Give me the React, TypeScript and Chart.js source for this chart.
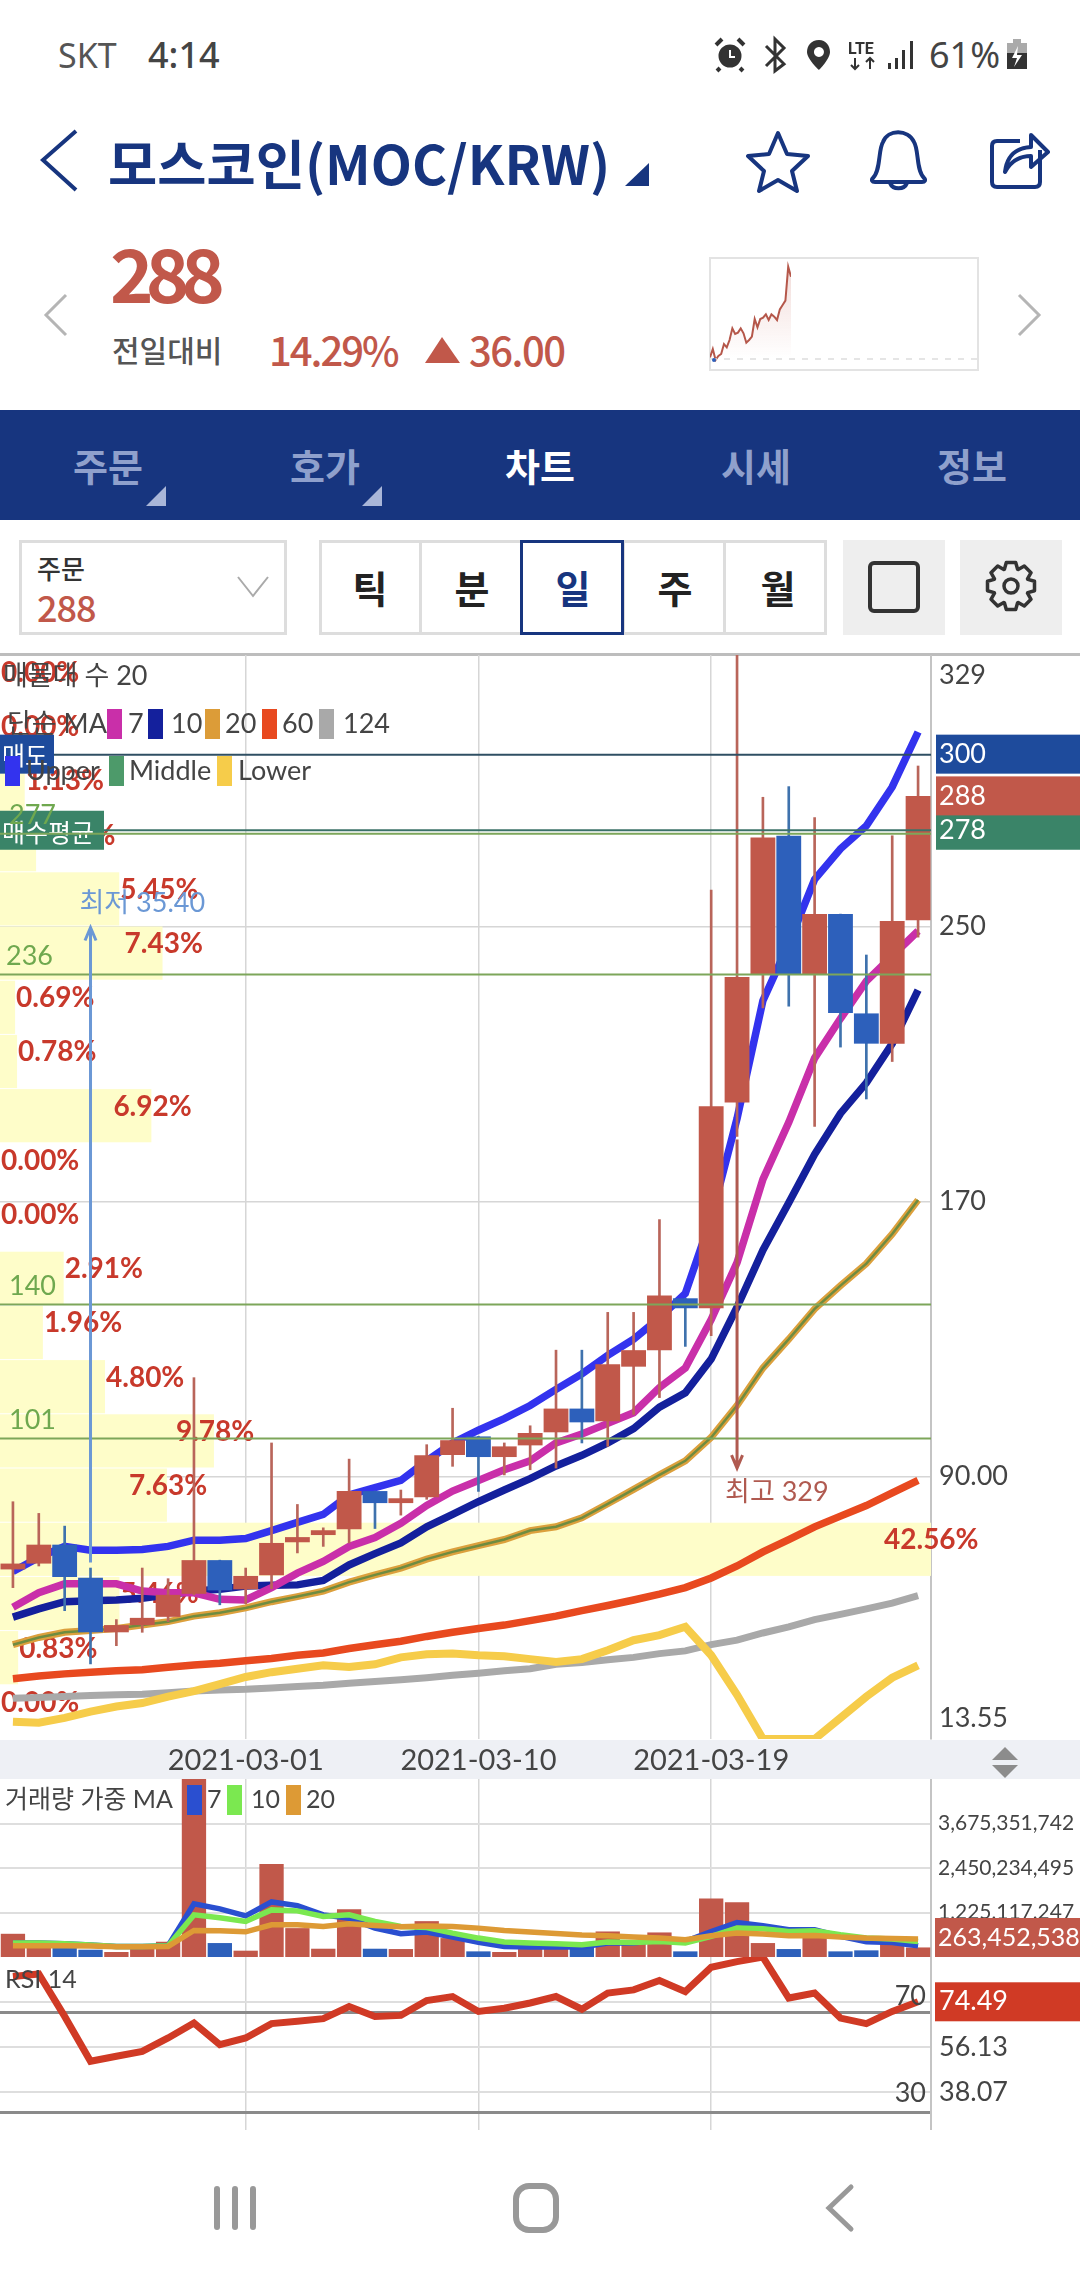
import React, { useEffect, useRef } from "react";
import { Chart, registerables } from "chart.js";

Chart.register(...registerables);

const FONT = 'Lato, "Noto Sans CJK KR", sans-serif';
const KR = '"Noto Sans CJK KR", sans-serif';
Chart.defaults.font.family = FONT;

const dates = [
  "2021-02-20","2021-02-21","2021-02-22","2021-02-23","2021-02-24","2021-02-25","2021-02-26","2021-02-27","2021-02-28",
  "2021-03-01","2021-03-02","2021-03-03","2021-03-04","2021-03-05","2021-03-06","2021-03-07","2021-03-08","2021-03-09",
  "2021-03-10","2021-03-11","2021-03-12","2021-03-13","2021-03-14","2021-03-15","2021-03-16","2021-03-17","2021-03-18",
  "2021-03-19","2021-03-20","2021-03-21","2021-03-22","2021-03-23","2021-03-24","2021-03-25","2021-03-26","2021-03-27",
];
const majorDates = ["2021-03-01", "2021-03-10", "2021-03-19"];

const opens = [62.9,64.6,70.1,60.5,44.6,46.7,49.1,55.8,65.6,57.1,61.2,70.8,72.9,74.6,85.7,82.2,83.9,96.2,101.6,95.6,99.0,102.8,109.7,106.0,121.9,126.7,141.8,138.9,198.8,235.9,276.4,235.9,253.6,224.7,215.9,251.8];
const closes = [64.6,70.1,60.7,44.6,46.7,48.8,55.5,65.6,56.8,61.0,70.6,72.3,74.3,85.7,82.2,83.6,96.1,100.5,95.6,98.7,102.6,109.7,105.7,122.6,126.7,142.6,138.9,197.7,235.3,275.9,235.9,253.6,224.8,215.9,251.6,288];
const highs = [82.6,79.2,75.5,63.3,48.3,63.3,60.2,118.7,65.6,63.3,99.7,81.8,75.0,95.0,85.7,86.0,99.2,109.8,101.6,99.7,104.7,126.7,126.7,137.7,137.7,164.7,141.8,260.6,329,287.6,290.7,281.7,253.6,241.7,276.4,296.7];
const lows = [57.6,63.9,50.9,35.4,40.7,44.6,47.7,55.5,52.6,52.9,57.3,67.7,69.6,70.6,74.8,78.7,83.3,92.9,85.6,90.4,91.9,92.4,99.7,98.7,108.0,112.9,127.8,130.9,188.9,226.3,226.8,191.8,214.9,199.8,210.7,246.9];

const bbUpper = [62.3,66.4,69.6,68.5,68.5,68.7,69.6,71.4,71.4,71.9,74.2,76.6,78.9,84.6,86.7,88.8,94.5,99.7,103.4,106.8,110.6,115.3,119.8,125.2,129.9,136.1,143.2,165.1,194.1,228.4,245,263.7,272.6,279.3,290.6,306.6];
const bbLower = [18.6,18.3,19.7,21.5,23.0,24.0,25.9,27.5,29.5,31.6,33.0,34.0,35.0,34.5,35.3,37.3,38.2,38.4,37.9,37.6,36.8,36.0,36.8,39.4,42.3,43.8,46.2,37.9,26.4,13.55,13.55,13.55,19.7,25.9,31.4,35.0];
const ma7 = [51.9,56.1,58.7,58.7,58.7,56.6,56.1,56.1,54.2,54.0,57.6,61.8,65.2,69.6,72.2,76.3,81.5,85.7,88.8,91.9,94.5,99.7,102.3,105.4,108.5,115.8,121.5,135.6,152.2,176.4,193.0,211.7,223.2,234.1,241.4,248.7];
const ma10 = [49.0,51.4,53.5,53.8,54.0,54.5,55.5,56.6,57.1,58.1,58.3,58.4,59.7,64.2,67.5,70.6,75.3,78.9,82.6,86.0,89.3,93.0,96.1,99.7,103.9,110.1,114.3,124.1,139.2,155.8,169.6,183.7,195.6,204.5,215.9,231.5];
const ma20 = [41.0,43.1,44.6,45.1,45.7,46.7,47.7,49.3,50.3,51.7,53.5,55.0,56.6,59.2,61.3,63.3,65.9,68.0,69.8,71.6,74.2,75.3,77.9,82.0,86.2,90.4,94.5,101.3,110.6,121.5,129.9,138.7,145.5,151.9,160.5,170.4];
const ma60 = [31.1,31.9,32.5,33.0,33.4,33.7,34.4,35.1,35.6,36.3,37.0,37.9,38.6,39.9,41.0,42.0,43.4,44.6,45.7,46.7,48.0,49.3,50.9,52.4,54.0,55.7,57.6,60.4,63.9,68.0,71.6,75.3,78.4,81.5,85.2,88.8];
const ma124 = [25.4,25.6,25.9,26.2,26.4,26.6,27.0,27.5,27.8,28.0,28.4,28.8,29.2,29.8,30.3,30.8,31.4,32.1,32.7,33.4,34.0,35.3,35.8,36.6,37.3,38.4,39.2,41.0,42.3,44.4,46.2,48.3,49.8,51.4,53.1,55.3];

const priceMin = 13.55;
const priceMax = 329;
const priceTicks = [329, 300, 288, 278, 250, 170, 90, 13.55];
const priceTickLabels = ["329", "300", "288", "278", "250", "170", "90.00", "13.55"];
const priceGridTicks = [250, 170, 90];
const supportLevels = [277, 236, 140, 101];
const supportLabels = ["277", "236", "140", "101"];
const askPrice = 300;
const lastPrice = 288;
const avgBuyPrice = 278;

const profilePercents = [0,0,1.13,1.65,5.45,7.43,0.69,0.78,6.92,0,0,2.91,1.96,4.80,9.78,7.63,42.56,5.46,0.83,0];

const volumeMillions = [639,274,247,201,137,247,420,5200,384,174,2558,795,228,1315,228,219,987,521,155,137,219,274,274,703,384,676,155,1608,1507,384,219,703,155,183,384,263];
const volMa7 = [384,384,365,329,292,292,311,1462,1325,1133,1516,1416,1160,1069,795,639,685,548,402,292,274,274,274,384,384,475,429,703,950,859,749,749,566,420,402,311];
const volMa10 = [384,384,365,329,292,292,311,1160,1078,977,1297,1270,1114,1160,977,840,813,658,521,411,384,365,338,411,402,429,384,566,795,776,703,722,612,521,493,429];
const volMa20 = [311,311,311,301,283,283,292,731,722,694,886,886,840,914,868,831,850,840,795,731,685,649,603,585,548,521,475,585,658,630,585,594,548,521,512,493];
const volTicks = [1225.117247, 2450.234495, 3675.351742];
const volTickLabels = ["1,225,117,247", "2,450,234,495", "3,675,351,742"];
const volMax = 4900.469;
const volLastLabel = "263,452,538";

const rsiValues = [84.7,85.7,68.6,50.5,52.5,54.5,59.9,65.9,57.2,59.9,65.7,66.6,67.7,72.6,68.6,69.0,75.0,76.6,70.6,71.9,74.0,76.6,71.5,78.0,79.3,83.1,78.6,88.4,90.7,92.5,76.0,78.0,67.9,65.7,70.6,74.49];
const rsiTicks = [74.49, 70, 56.13, 38.07, 30];
const rsiMin = 22.77;
const rsiMax = 92.56;

const sparkValues = [38,63,30,42,48,78,68,90,125,108,112,125,110,82,90,100,153,128,153,157,167,150,167,160,150,182,195,208,310,280];

const RED = "#c1584a";
const BLUE = "#2d60bb";
const TAG_BLUE = "#1e4b9c";
const TAG_GREEN = "#3a8468";
const PCT_RED = "#c8392b";
const TXT = "#444444";
const GRID = "#d6d6d6";
const NAVY = "#17357f";

function txt(ctx: any, s: string, x: number, y: number, color: string, font: string, align: any = "left") {
  ctx.save();
  ctx.font = font;
  ctx.fillStyle = color;
  ctx.textAlign = align;
  ctx.textBaseline = "middle";
  ctx.fillText(s, x, y);
  ctx.restore();
}
function rect(ctx: any, x: number, y: number, w: number, h: number, color: string) {
  ctx.fillStyle = color;
  ctx.fillRect(x, y, w, h);
}
function hline(ctx: any, y: number, x0: number, x1: number, color: string, w = 2) {
  ctx.save();
  ctx.strokeStyle = color;
  ctx.lineWidth = w;
  ctx.beginPath();
  ctx.moveTo(x0, y);
  ctx.lineTo(x1, y);
  ctx.stroke();
  ctx.restore();
}
function arrow(ctx: any, x: number, y0: number, y1: number, color: string) {
  const d = y1 > y0 ? 1 : -1;
  ctx.save();
  ctx.strokeStyle = color;
  ctx.lineWidth = 3;
  ctx.beginPath();
  ctx.moveTo(x, y0);
  ctx.lineTo(x, y1);
  ctx.moveTo(x - 5.5, y1 - d * 13);
  ctx.lineTo(x, y1);
  ctx.lineTo(x + 5.5, y1 - d * 13);
  ctx.stroke();
  ctx.restore();
}

const mainOverlay = {
  id: "mainOverlay",
  beforeDatasetsDraw(chart: any) {
    const { ctx, scales } = chart;
    const y = scales.y;
    const p = scales.profile;
    const step = (priceMax - priceMin) / profilePercents.length;
    const f = `700 28px ${FONT}`;
    profilePercents.forEach((pct, i) => {
      const top = y.getPixelForValue(priceMax - step * i);
      const bot = y.getPixelForValue(priceMax - step * (i + 1));
      const r = p.getPixelForValue(pct);
      if (pct > 0) rect(ctx, 0, top + 0.5, r, bot - top - 1, "#fefdc9");
    });
    profilePercents.forEach((pct, i) => {
      const top = y.getPixelForValue(priceMax - step * i);
      const r = p.getPixelForValue(pct);
      const x = pct >= 6 ? r - 38 - (pct >= 10 ? 9 : 0) : r + 1;
      txt(ctx, pct.toFixed(2) + "%", x, top + 18, PCT_RED, f);
    });
  },
  afterDatasetsDraw(chart: any) {
    const { ctx, scales, chartArea } = chart;
    const y = scales.y;
    const x = scales.x;
    const right = chartArea.right;
    hline(ctx, y.getPixelForValue(askPrice), 0, right, "#2f4f63");
    hline(ctx, y.getPixelForValue(avgBuyPrice), 0, right, "#3c7268");
    // tags on the left
    rect(ctx, 0, y.getPixelForValue(askPrice) - 20, 54, 39, TAG_BLUE);
    rect(ctx, 0, y.getPixelForValue(avgBuyPrice) - 19.5, 104, 39, TAG_GREEN);
    txt(ctx, "매도", 2, y.getPixelForValue(askPrice) + 1, "#fff", `25px ${KR}`);
    txt(ctx, "매수평균", 2, y.getPixelForValue(avgBuyPrice) + 2, "#fff", `25px ${KR}`);
    // support levels
    supportLevels.forEach((lv, i) => {
      const py = y.getPixelForValue(lv);
      hline(ctx, py, 0, right, "#7da65a");
      txt(ctx, supportLabels[i], lv > 200 && lv < 270 ? 6 : 9, py - 18, "#6fa84f", `27px ${FONT}`);
    });
    // extreme markers
    const loX = x.getPixelForValue(3);
    const hiX = x.getPixelForValue(28);
    arrow(ctx, loX, y.getPixelForValue(64.9), y.getPixelForValue(249.7), "#6b98d5");
    txt(ctx, "최저 35.40", loX - 11, y.getPixelForValue(249.7) - 24, "#6b98d5", `27px ${FONT}`);
    arrow(ctx, hiX, y.getPixelForValue(188), y.getPixelForValue(92.4), "#b05a50");
    txt(ctx, "최고 329", hiX - 12, y.getPixelForValue(92.4) + 24, "#b05a50", `27px ${FONT}`);
    // legends
    const lf = `27px ${FONT}`;
    const sw = (sx: number, ly: number, c: string) => rect(ctx, sx, ly - 15, 15, 30, c);
    txt(ctx, "매물대 수 20", 3, 21, TXT, lf);
    txt(ctx, "단순 MA", 7, 69, TXT, lf);
    sw(107, 69, "#c92fa9"); txt(ctx, "7", 128, 69, TXT, lf);
    sw(148, 69, "#14209c"); txt(ctx, "10", 171, 69, TXT, lf);
    sw(205, 69, "#dc9c38"); txt(ctx, "20", 225, 69, TXT, lf);
    sw(262, 69, "#e8491f"); txt(ctx, "60", 282, 69, TXT, lf);
    sw(319, 69, "#a9a9a9"); txt(ctx, "124", 343, 69, TXT, lf);
    sw(5, 116, "#3333ee"); txt(ctx, "Upper", 26, 116, TXT, lf);
    sw(109, 116, "#4d9a6a"); txt(ctx, "Middle", 129, 116, TXT, lf);
    sw(217, 116, "#f6cc4a"); txt(ctx, "Lower", 238, 116, TXT, lf);
  },
  beforeDraw(chart: any) {
    const { ctx, scales } = chart;
    const y = scales.y;
    rect(ctx, 936, y.getPixelForValue(askPrice) - 20, 144, 39, TAG_BLUE);
    rect(ctx, 936, y.getPixelForValue(avgBuyPrice) - 19.5, 144, 39, TAG_GREEN);
    rect(ctx, 936, y.getPixelForValue(lastPrice) - 19.5, 144, 39, RED);
  },
};

const volOverlay = {
  id: "volOverlay",
  afterDatasetsDraw(chart: any) {
    const { ctx } = chart;
    rect(ctx, 935, 139, 145, 39, RED);
    txt(ctx, volLastLabel, 938, 159, "#fff", `25px ${FONT}`);
    const lf = `25px ${FONT}`;
    txt(ctx, "거래량 가중 MA", 5, 21, TXT, lf);
    const sw = (sx: number, c: string) => rect(ctx, sx, 6, 15, 30, c);
    sw(187, "#2a4fd0"); txt(ctx, "7", 207, 21, TXT, lf);
    sw(227, "#7be850"); txt(ctx, "10", 251, 21, TXT, lf);
    sw(286, "#dd9a35"); txt(ctx, "20", 306, 21, TXT, lf);
  },
};

const rsiOverlay = {
  id: "rsiOverlay",
  beforeDraw(chart: any) {
    const { ctx, scales } = chart;
    rect(ctx, 935, scales.y.getPixelForValue(74.49) - 19.5, 145, 39, "#d03a25");
  },
  afterDatasetsDraw(chart: any) {
    const { ctx, scales } = chart;
    txt(ctx, "RSI 14", 5, 23, TXT, `25px ${FONT}`);
    txt(ctx, "70", 926, scales.y.getPixelForValue(70) - 17, TXT, `27px ${FONT}`, "right");
    txt(ctx, "30", 926, scales.y.getPixelForValue(30) - 19, TXT, `27px ${FONT}`, "right");
  },
};

const noPad = (s: any) => {
  s.paddingTop = 0;
  s.paddingBottom = 0;
  s.paddingLeft = 0;
  s.paddingRight = 0;
};

const sharedX = (showLabels: boolean) => ({
  type: "category",
  offset: true,
  afterBuildTicks: (s: any) => {
    s.ticks = s.ticks.filter((t: any) => majorDates.includes(dates[t.value]));
  },
  afterFit: (s: any) => { s.height = showLabels ? 40 : 0; noPad(s); },
  border: { display: false },
  grid: { offset: false, color: GRID, lineWidth: 1.5, drawTicks: false },
  ticks: {
    display: showLabels,
    autoSkip: false,
    maxRotation: 0,
    color: TXT,
    padding: 4,
    font: { size: 29 },
  },
});

const rightAxisFit = (s: any) => { s.width = 149; noPad(s); };

const baseOptions = {
  responsive: false,
  animation: false as const,
  devicePixelRatio: 1,
  layout: { autoPadding: false, padding: 0 },
  plugins: { legend: { display: false }, tooltip: { enabled: false } },
};

const line = (label: string, data: number[], color: string, width: number, order: number) => ({
  type: "line",
  label,
  data,
  borderColor: color,
  backgroundColor: color,
  borderWidth: width,
  pointRadius: 0,
  tension: 0,
  fill: false,
  order,
});

function makeMain(canvas: HTMLCanvasElement) {
  const isUp = closes.map((c, i) => c >= opens[i]);
  return new Chart(canvas, {
    type: "bar",
    data: {
      labels: dates,
      datasets: [
        line("124", ma124, "#a9a9a9", 7, 10),
        line("Lower", bbLower, "#f6cc4a", 8, 9),
        line("60", ma60, "#e8491f", 7.5, 8),
        line("Upper", bbUpper, "#3333ee", 7.5, 7),
        line("20", ma20, "#dca03c", 7, 6),
        line("Middle", ma20, "#6e8c40", 2.5, 5),
        line("10", ma10, "#14209c", 7.5, 4),
        line("7", ma7, "#c92fa9", 7.5, 3),
        {
          type: "bar",
          label: "wick",
          data: lows.map((l, i) => [l, highs[i]]),
          backgroundColor: isUp.map((u) => (u ? "#b9655a" : "#3f72ad")),
          barThickness: 2,
          grouped: false,
          order: 2,
        },
        {
          type: "bar",
          label: "body",
          data: opens.map((o, i) => [o, closes[i]]),
          backgroundColor: isUp.map((u) => (u ? RED : BLUE)),
          categoryPercentage: 1,
          barPercentage: 0.96,
          grouped: false,
          order: 1,
        },
      ],
    },
    options: {
      ...baseOptions,
      scales: {
        x: sharedX(true),
        profile: { type: "linear", display: false, offset: false, min: 0, max: 42.56, position: "bottom" },
        y: {
          position: "right",
          min: priceMin,
          max: priceMax,
          afterFit: rightAxisFit,
          afterBuildTicks: (s: any) => { s.ticks = priceTicks.map((value) => ({ value })); },
          border: { display: true, color: "#c4c4c4", width: 2 },
          grid: {
            drawTicks: false,
            lineWidth: 1.5,
            color: (c: any) => (priceGridTicks.includes(c.tick?.value) ? GRID : "rgba(0,0,0,0)"),
          },
          ticks: {
            autoSkip: false,
            padding: 8,
            font: { size: 27, lineHeight: 1.5 },
            color: (c: any) => ([300, 288, 278].includes(c.tick?.value) ? "#ffffff" : TXT),
            callback: (v: number) => {
              const s = priceTickLabels[priceTicks.indexOf(v)];
              if (v === priceMax) return ["", s];
              if (v === priceMin) return [s, ""];
              return s;
            },
          },
        },
      },
    } as any,
    plugins: [mainOverlay],
  } as any);
}

function makeVolume(canvas: HTMLCanvasElement) {
  const isUp = closes.map((c, i) => c >= opens[i]);
  return new Chart(canvas, {
    type: "bar",
    data: {
      labels: dates,
      datasets: [
        {
          type: "bar",
          label: "volume",
          data: volumeMillions,
          backgroundColor: isUp.map((u) => (u ? RED : BLUE)),
          categoryPercentage: 1,
          barPercentage: 0.94,
          order: 5,
        },
        line("7", volMa7, "#2a4fd0", 5.5, 3),
        line("10", volMa10, "#7be850", 5.5, 2),
        line("20", volMa20, "#dd9a35", 5.5, 1),
      ],
    },
    options: {
      ...baseOptions,
      scales: {
        x: sharedX(false),
        y: {
          position: "right",
          min: 0,
          max: volMax,
          afterFit: rightAxisFit,
          afterBuildTicks: (s: any) => { s.ticks = volTicks.map((value) => ({ value })); },
          border: { display: true, color: "#c4c4c4", width: 2 },
          grid: { drawTicks: false, color: "#dedede", lineWidth: 2 },
          ticks: {
            autoSkip: false,
            padding: 7,
            color: TXT,
            font: { size: 21 },
            callback: (v: number) => volTickLabels[volTicks.indexOf(v)],
          },
        },
      },
    } as any,
    plugins: [volOverlay],
  } as any);
}

function makeRsi(canvas: HTMLCanvasElement) {
  return new Chart(canvas, {
    type: "line",
    data: {
      labels: dates,
      datasets: [line("RSI", rsiValues, "#d03a25", 7, 1)],
    },
    options: {
      ...baseOptions,
      scales: {
        x: sharedX(false),
        y: {
          position: "right",
          min: rsiMin,
          max: rsiMax,
          afterFit: rightAxisFit,
          afterBuildTicks: (s: any) => { s.ticks = rsiTicks.map((value) => ({ value })); },
          border: { display: true, color: "#c4c4c4", width: 2 },
          grid: {
            drawTicks: false,
            color: (c: any) => ([70, 30].includes(c.tick?.value) ? "#8a8a8a" : "#dedede"),
            lineWidth: (c: any) => ([70, 30].includes(c.tick?.value) ? 3 : 2),
          },
          ticks: {
            autoSkip: false,
            padding: 8,
            font: { size: 27 },
            color: (c: any) => (c.tick?.value === 74.49 ? "#ffffff" : TXT),
            callback: (v: number) => ([70, 30].includes(v) ? "" : v.toFixed(2)),
          },
        },
      },
    } as any,
    plugins: [rsiOverlay],
  } as any);
}

function makeSpark(canvas: HTMLCanvasElement) {
  return new Chart(canvas, {
    type: "line",
    data: {
      labels: sparkValues.map((_, i) => String(i)),
      datasets: [
        {
          data: sparkValues,
          borderColor: "#b5574a",
          borderWidth: 2,
          pointRadius: 0,
          tension: 0,
          fill: "start",
          backgroundColor: (c: any) => {
            const g = c.chart.ctx.createLinearGradient(0, 20, 0, 100);
            g.addColorStop(0, "rgba(193,88,74,0.18)");
            g.addColorStop(1, "rgba(193,88,74,0)");
            return g;
          },
        },
      ],
    },
    options: {
      ...baseOptions,
      scales: {
        x: { display: false },
        y: { display: false, min: 0, max: 336 },
      },
    } as any,
  } as any);
}

const T = ({ x, cy, size, color, weight = 400, children, family = KR, spacing = 0, center = false }: any) => (
  <div
    style={{
      position: "absolute",
      left: center ? x - 200 : x,
      width: center ? 400 : undefined,
      textAlign: center ? "center" : "left",
      top: cy - 60,
      height: 120,
      lineHeight: "120px",
      fontSize: size,
      color,
      fontWeight: weight,
      fontFamily: family,
      letterSpacing: spacing,
      whiteSpace: "nowrap",
    }}
  >
    {children}
  </div>
);

const Box = ({ x, y, w, h, bg = "transparent", border }: any) => (
  <div
    style={{
      position: "absolute",
      left: x,
      top: y,
      width: w,
      height: h,
      background: bg,
      border,
      boxSizing: "border-box",
    }}
  />
);

function gearPath(cx: number, cy: number, r0: number, r1: number, n: number) {
  let d = "";
  for (let i = 0; i < n; i++) {
    const a = (i / n) * Math.PI * 2;
    const w = Math.PI / n;
    const pts = [
      [a - w * 0.95, r0],
      [a - w * 0.5, r1],
      [a + w * 0.5, r1],
      [a + w * 0.95, r0],
    ];
    pts.forEach(([t, r], j) => {
      d += `${i === 0 && j === 0 ? "M" : "L"}${(cx + Math.sin(t as number) * (r as number)).toFixed(1)},${(cy - Math.cos(t as number) * (r as number)).toFixed(1)} `;
    });
  }
  return d + "Z";
}

const Icons = () => (
  <svg width={1080} height={2280} style={{ position: "absolute", left: 0, top: 0, pointerEvents: "none" }}>
    {/* status bar */}
    <g fill="none" stroke="#333" strokeWidth={3}>
      <circle cx={730} cy={56} r={10} fill="#333" />
      <path d="M716,45 L722,39 M744,45 L738,39 M720,68 L717,71 M740,68 L743,71" strokeWidth={4} />
      <path d="M730,50 V57 H735" stroke="#fff" strokeWidth={2} />
      <path d="M766,46 L784,64 L775,71 V39 L784,48 L766,66" strokeWidth={3} />
    </g>
    <path d="M819,40 C811,40 807,46 807,52 C807,59 819,70 819,70 C819,70 830,59 830,52 C830,46 826,40 819,40 Z M819,47 A5,5 0 1 1 818.9,47 Z" fill="#333" fillRule="evenodd" />
    <text x={848} y={54} fontSize={16} fontWeight={700} fontFamily="Roboto" fill="#333">LTE</text>
    <path d="M855,58 V69 M851,65 L855,69 L859,65 M870,69 V58 M866,62 L870,58 L874,62" stroke="#333" strokeWidth={2} fill="none" />
    <g fill="#333">
      <rect x={888} y={63} width={3} height={6} />
      <rect x={895} y={58} width={3} height={11} />
      <rect x={902} y={50} width={3} height={19} />
      <rect x={910} y={41} width={3} height={28} />
    </g>
    <rect x={1013} y={39} width={8} height={4} fill="#aaa" />
    <rect x={1007} y={43} width={20} height={10} fill="#aaa" />
    <rect x={1007} y={53} width={20} height={16} fill="#333" />
    <path d="M1018,46 L1012,58 H1017 L1014,67 L1022,55 H1017 Z" fill="#fff" />

    {/* title row */}
    <path d="M76,131 L43,160 L76,190" fill="none" stroke={NAVY} strokeWidth={4} />
    <path d="M649,163 V186 H625 Z" fill={NAVY} />
    <path d="M778,133 L787,154 L808,156 L792,171 L797,191 L778,180 L759,191 L764,171 L748,156 L769,154 Z" fill="none" stroke={NAVY} strokeWidth={4} strokeLinejoin="round" />
    <path d="M873,178 C881,170 878,150 883,142 C888,129 908,129 914,142 C919,150 916,170 924,178 C926,180 925,182 922,182 H875 C872,182 871,180 873,178 Z" fill="none" stroke={NAVY} strokeWidth={4} />
    <path d="M890,183 A9,8 0 0 0 907,183" fill="none" stroke={NAVY} strokeWidth={4} />
    <path d="M1040,150 V182 Q1040,187 1035,187 H997 Q992,187 992,182 V146 Q992,141 997,141 H1020" fill="none" stroke={NAVY} strokeWidth={4} />
    <path d="M1005,172 C1007,155 1016,148 1031,147 V135 L1048,152 L1031,167 V156 C1020,156 1011,161 1005,172 Z" fill="none" stroke={NAVY} strokeWidth={4} strokeLinejoin="round" />

    {/* price row */}
    <path d="M66,295 L46,315 L66,335" fill="none" stroke="#b5b5b5" strokeWidth={3} />
    <path d="M1019,295 L1039,315 L1019,335" fill="none" stroke="#b5b5b5" strokeWidth={3} />
    <path d="M425,363 L442,337 L460,363 Z" fill={RED} />
    <line x1={711} y1={359} x2={977} y2={359} stroke="#dddddd" strokeWidth={1.5} strokeDasharray="6 7" />
    <circle cx={714} cy={360} r={2} fill={BLUE} />

    {/* nav triangles */}
    <path d="M166,486 V506 H146 Z" fill="#a9b6d8" />
    <path d="M382,486 V506 H362 Z" fill="#a9b6d8" />

    {/* controls */}
    <path d="M238,577 L253,596 L268,577" fill="none" stroke="#aaa" strokeWidth={2} />
    <rect x={870} y={563} width={48} height={48} rx={4} fill="none" stroke="#333" strokeWidth={4} />
    <path d={gearPath(1011, 586, 18, 24, 8)} fill="none" stroke="#333" strokeWidth={3.5} strokeLinejoin="round" />
    <circle cx={1011} cy={586} r={7} fill="none" stroke="#333" strokeWidth={3.5} />

    {/* axis strip arrows */}
    <path d="M992,1760 L1005,1747 L1018,1760 Z" fill="#8c8c8c" />
    <path d="M992,1765 L1018,1765 L1005,1778 Z" fill="#8c8c8c" />

    {/* android nav */}
    <g fill="#999">
      <rect x={214} y={2186} width={6} height={44} rx={3} />
      <rect x={232} y={2186} width={6} height={44} rx={3} />
      <rect x={250} y={2186} width={6} height={44} rx={3} />
    </g>
    <rect x={516} y={2186} width={40} height={44} rx={13} fill="none" stroke="#999" strokeWidth={6} />
    <path d="M851,2187 L829,2208 L851,2229" fill="none" stroke="#999" strokeWidth={5} strokeLinecap="round" />
  </svg>
);

export default function App() {
  const mainRef = useRef<HTMLCanvasElement>(null);
  const volRef = useRef<HTMLCanvasElement>(null);
  const rsiRef = useRef<HTMLCanvasElement>(null);
  const sparkRef = useRef<HTMLCanvasElement>(null);

  useEffect(() => {
    document.body.style.margin = "0";
    const charts = [
      makeMain(mainRef.current!),
      makeVolume(volRef.current!),
      makeRsi(rsiRef.current!),
      makeSpark(sparkRef.current!),
    ];
    return () => charts.forEach((c) => c.destroy());
  }, []);

  const abs = (top: number, left = 0): React.CSSProperties => ({ position: "absolute", top, left, display: "block" });

  return (
    <div style={{ position: "absolute", left: 0, top: 0, width: 1080, height: 2280, background: "#fff", overflow: "hidden" }}>
      {/* status bar */}
      <T x={58} cy={55} size={34} color="#555" family="'Noto Sans'">SKT</T>
      <T x={148} cy={55} size={36} color="#444" family="'Noto Sans'" weight={500}>4:14</T>
      <T x={929} cy={55} size={36} color="#444" family="'Noto Sans'">61%</T>

      {/* title */}
      <T x={108} cy={162} size={53.5} color={NAVY} weight={700}>모스코인(MOC/KRW)</T>

      {/* price */}
      <T x={110} cy={271} size={74} color={RED} weight={700} spacing={-8}>288</T>
      <T x={112} cy={349} size={30} color="#555" weight={500}>전일대비</T>
      <T x={269} cy={349} size={40} color={RED} weight={500} spacing={-2}>14.29%</T>
      <T x={469} cy={349} size={40} color={RED} weight={500} spacing={-1.5}>36.00</T>
      <Box x={709} y={257} w={270} h={114} border="2px solid #e3e3e3" />
      <canvas ref={sparkRef} width={81} height={112} style={abs(258, 710)} />

      {/* tab bar */}
      <Box x={0} y={410} w={1080} h={110} bg={NAVY} />
      <T x={108} cy={465} size={38} color="#8fa0cc" weight={700} center>주문</T>
      <T x={325} cy={465} size={38} color="#8fa0cc" weight={700} center>호가</T>
      <T x={540} cy={465} size={38} color="#ffffff" weight={700} center>차트</T>
      <T x={756} cy={465} size={38} color="#8fa0cc" weight={700} center>시세</T>
      <T x={972} cy={465} size={38} color="#8fa0cc" weight={700} center>정보</T>

      {/* controls */}
      <Box x={19} y={540} w={268} h={95} border="3px solid #dddddd" />
      <T x={37} cy={568} size={26} color="#333" weight={500}>주문</T>
      <T x={37} cy={606} size={36} color={RED} weight={500} spacing={-1}>288</T>
      <Box x={319} y={540} w={508} h={95} border="3px solid #dddddd" />
      <Box x={419} y={540} w={3} h={95} bg="#dddddd" />
      <Box x={622} y={540} w={3} h={95} bg="#dddddd" />
      <Box x={723} y={540} w={3} h={95} bg="#dddddd" />
      <Box x={520} y={540} w={104} h={95} border={`3px solid ${NAVY}`} />
      <T x={370} cy={587} size={38} color="#222" weight={700} center>틱</T>
      <T x={472} cy={587} size={38} color="#222" weight={700} center>분</T>
      <T x={573} cy={587} size={38} color={NAVY} weight={700} center>일</T>
      <T x={675} cy={587} size={38} color="#222" weight={700} center>주</T>
      <T x={778} cy={587} size={38} color="#222" weight={700} center>월</T>
      <Box x={843} y={540} w={102} h={95} bg="#eeeeee" />
      <Box x={960} y={540} w={102} h={95} bg="#eeeeee" />

      {/* chart panels */}
      <Box x={0} y={653} w={1080} h={3} bg="#bdbdbd" />
      <Box x={0} y={1740} w={1080} h={39} bg="#eef0f5" />
      <canvas ref={mainRef} width={1080} height={1124} style={abs(655)} />
      <canvas ref={volRef} width={1080} height={178} style={abs(1779)} />
      <canvas ref={rsiRef} width={1080} height={173} style={abs(1957)} />

      <Icons />
    </div>
  );
}
